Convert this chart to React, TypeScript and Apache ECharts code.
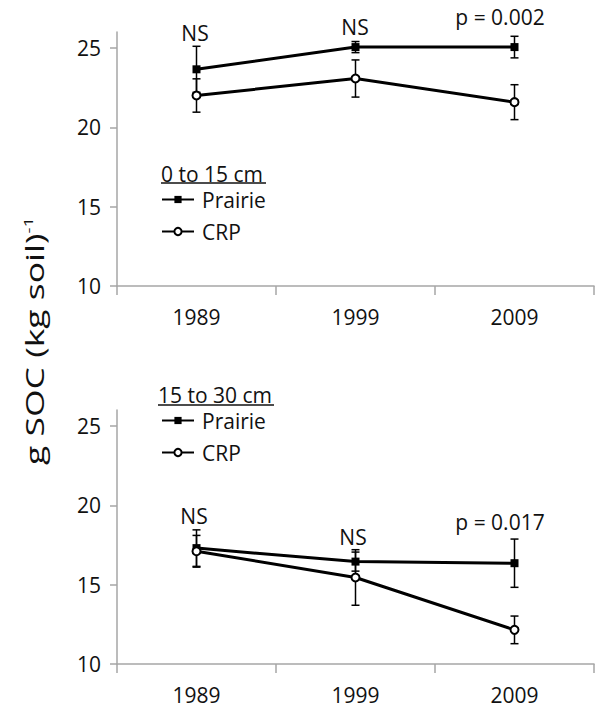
import React, { useEffect, useRef } from "react";
import * as echarts from "echarts";

const years = ["1989", "1999", "2009"];
const yTicks = [10, 15, 20, 25];

// 0 to 15 cm
const prairieTop = [23.65, 25.05, 25.05];
const prairieTopErr = [1.45, 0.35, 0.68];
const crpTop = [22.0, 23.07, 21.58];
const crpTopErr = [1.05, 1.17, 1.1];

// 15 to 30 cm
const prairieBot = [17.3, 16.45, 16.35];
const prairieBotErr = [1.15, 0.6, 1.52];
const crpBot = [17.1, 15.45, 12.15];
const crpBotErr = [1.0, 1.75, 0.87];

const topNotes = ["NS", "NS", "p = 0.002"];
const botNotes = ["NS", "NS", "p = 0.017"];

const FONT = "Open Sans";
const TXT = "#111";
const AXIS = "#a6a6a6";

function errData(vals: number[], errs: number[]) {
  return vals.map((v, i) => [i, v - errs[i], v + errs[i]]);
}

function errSeries(name: string, vals: number[], errs: number[], idx: number) {
  return {
    type: "custom",
    name,
    xAxisIndex: idx,
    yAxisIndex: idx,
    z: 1,
    encode: { x: 0, y: [1, 2] },
    data: errData(vals, errs),
    renderItem: (params: any, api: any) => {
      const x = api.value(0);
      const lo = api.coord([x, api.value(1)]);
      const hi = api.coord([x, api.value(2)]);
      const w = 4;
      const st = { stroke: "#000", lineWidth: 1.5 };
      return {
        type: "group",
        children: [
          { type: "line", shape: { x1: lo[0], y1: lo[1], x2: hi[0], y2: hi[1] }, style: st },
          { type: "line", shape: { x1: lo[0] - w, y1: lo[1], x2: lo[0] + w, y2: lo[1] }, style: st },
          { type: "line", shape: { x1: hi[0] - w, y1: hi[1], x2: hi[0] + w, y2: hi[1] }, style: st },
        ],
      };
    },
  };
}

function lineSeries(name: string, vals: number[], idx: number, open: boolean) {
  return {
    type: "line",
    name,
    xAxisIndex: idx,
    yAxisIndex: idx,
    z: 3,
    data: vals,
    symbol: open ? "emptyCircle" : "rect",
    symbolSize: 8,
    showAllSymbol: true,
    color: "#000",
    lineStyle: { color: "#000", width: 3 },
    itemStyle: { color: "#000", borderColor: "#000", borderWidth: open ? 1.5 : 0 },
  };
}

function xAxis(idx: number) {
  return {
    type: "category",
    gridIndex: idx,
    data: years,
    boundaryGap: true,
    axisLine: { lineStyle: { color: AXIS, width: 1.5 } },
    axisTick: { show: true, length: 9, lineStyle: { color: AXIS, width: 1.5 } },
    axisLabel: { color: TXT, fontFamily: FONT, fontSize: 21, margin: 20 },
    splitLine: { show: false },
  };
}

function yAxis(idx: number) {
  return {
    type: "value",
    gridIndex: idx,
    min: 10,
    max: 26,
    interval: 5,
    axisLine: { show: true, lineStyle: { color: AXIS, width: 1.5 } },
    axisTick: { show: true, length: 7, customValues: yTicks, lineStyle: { color: AXIS, width: 1.5 } },
    axisLabel: { color: TXT, fontFamily: FONT, fontSize: 21, margin: 16, customValues: yTicks },
    splitLine: { show: false },
  };
}

function note(text: string, x: number, y: number) {
  return {
    type: "text",
    x,
    y,
    style: { text, fill: TXT, font: `21px "${FONT}"`, align: "center", verticalAlign: "middle" },
  };
}

export default function App() {
  const ref = useRef<HTMLDivElement>(null);
  useEffect(() => {
    document.body.style.margin = "0";
    const chart = echarts.init(ref.current!, undefined, { renderer: "svg" });
    const legendCommon = {
      orient: "vertical",
      itemWidth: 32,
      itemHeight: 9,
      itemGap: 11,
      padding: 0,
      selectedMode: false,
      data: ["Prairie", "CRP"],
      textStyle: { color: TXT, fontFamily: FONT, fontSize: 21, padding: [0, 0, 0, 3] },
    };
    chart.setOption({
      animation: false,
      backgroundColor: "#fff",
      grid: [
        { left: 117, width: 477, top: 32, height: 254 },
        { left: 117, width: 477, top: 410, height: 254 },
      ],
      xAxis: [xAxis(0), xAxis(1)],
      yAxis: [yAxis(0), yAxis(1)],
      legend: [
        { ...legendCommon, left: 161, top: 189 },
        { ...legendCommon, left: 161, top: 410 },
      ],
      series: [
        errSeries("Prairie err 0-15", prairieTop, prairieTopErr, 0),
        errSeries("CRP err 0-15", crpTop, crpTopErr, 0),
        lineSeries("Prairie", prairieTop, 0, false),
        lineSeries("CRP", crpTop, 0, true),
        errSeries("Prairie err 15-30", prairieBot, prairieBotErr, 1),
        errSeries("CRP err 15-30", crpBot, crpBotErr, 1),
        lineSeries("Prairie", prairieBot, 1, false),
        lineSeries("CRP", crpBot, 1, true),
      ],
      graphic: [
        note(topNotes[0], 195, 33),
        note(topNotes[1], 355, 27),
        note(topNotes[2], 500, 17),
        note(botNotes[0], 194, 516),
        note(botNotes[1], 353, 537),
        note(botNotes[2], 500, 522),
        {
          type: "text",
          x: 161,
          y: 174,
          style: { text: "0 to 15 cm", fill: TXT, font: `21px "${FONT}"`, align: "left", verticalAlign: "middle" },
        },
        { type: "line", shape: { x1: 161, y1: 183, x2: 266, y2: 183 }, style: { stroke: TXT, lineWidth: 1.5 } },
        {
          type: "text",
          x: 158,
          y: 395,
          style: { text: "15 to 30 cm", fill: TXT, font: `21px "${FONT}"`, align: "left", verticalAlign: "middle" },
        },
        { type: "line", shape: { x1: 158, y1: 405, x2: 274, y2: 405 }, style: { stroke: TXT, lineWidth: 1.5 } },
        {
          type: "text",
          x: 34,
          y: 341,
          rotation: Math.PI / 2,
          scaleX: 1.42,
          style: {
            text: "{a|g SOC (kg soil)}{b|-1}",
            align: "center",
            verticalAlign: "middle",
            rich: {
              a: { fontFamily: FONT, fontSize: 25, fill: TXT, color: TXT },
              b: { fontFamily: FONT, fontSize: 13, fill: TXT, color: TXT, verticalAlign: "top", padding: [0, 0, 12, 0] },
            },
          },
        },
      ],
    });
    return () => chart.dispose();
  }, []);
  return <div ref={ref} style={{ position: "absolute", left: 0, top: 0, width: 595, height: 708 }} />;
}
